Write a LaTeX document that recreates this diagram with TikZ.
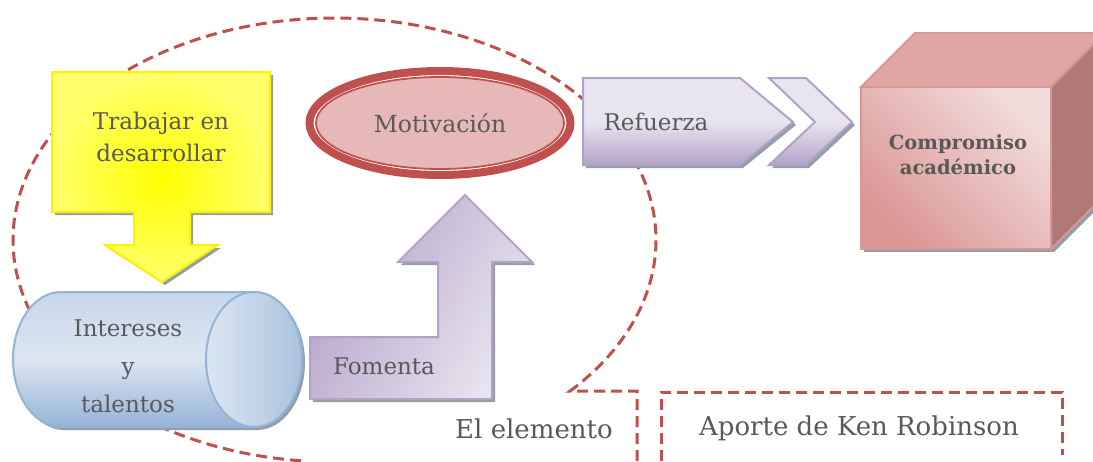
\documentclass[tikz,border=0pt]{standalone}
\usepackage{fontspec}
\setmainfont{DejaVu Serif}
\usetikzlibrary{shapes.geometric}

\definecolor{textgray}{HTML}{595959}
\definecolor{dashred}{HTML}{C0504D}
\definecolor{rosefill}{HTML}{E6B9B8}
\definecolor{lilaclight}{HTML}{E9E5F0}
\definecolor{lilacdark}{HTML}{B3A2C7}
\definecolor{bluelight}{HTML}{DCE6F2}
\definecolor{bluedark}{HTML}{95B3D7}
\definecolor{yellowlight}{HTML}{FFFF90}
\definecolor{shadowgray}{HTML}{939FA8}
\definecolor{cubefront}{HTML}{F2DCDB}
\definecolor{cubeedge}{HTML}{D99694}
\definecolor{cubetop}{HTML}{E0A6A4}
\definecolor{cubeside}{HTML}{B07976}

\newcommand{\trabajarpath}{(52,72) -- (270,72) -- (270,212) -- (190,212) -- (190,245) -- (218,245) -- (162,282) -- (105,245) -- (134,245) -- (134,212) -- (52,212) -- cycle}
\newcommand{\fomentapath}{(310,337) -- (438,337) -- (438,262) -- (398,262) -- (465,195) -- (532,262) -- (492,262) -- (492,399) -- (310,399) -- cycle}
\newcommand{\refuerzapath}{(583,78) -- (740,78) -- (793,122) -- (740,165) -- (583,165) -- cycle}
\newcommand{\chevronpath}{(769,78) -- (806,78) -- (852,122) -- (806,165) -- (769,165) -- (815,122) -- cycle}
\newcommand{\cylinderpath}{(61,292) -- (254,292) arc[start angle=-90, end angle=90, x radius=48, y radius=67.5] -- (61,427) arc[start angle=90, end angle=270, x radius=48, y radius=67.5] -- cycle}

\begin{document}
\begin{tikzpicture}[
  x=1pt, y=-1pt,
  every node/.style={text=textgray, align=center, inner sep=0pt},
  inner text/.style={font=\fontsize{23}{32}\selectfont},
  outer text/.style={font=\fontsize{26}{32}\selectfont},
  element line/.style={dashred, line width=3pt, dash pattern=on 11pt off 6pt},
  drop shadow/.style={fill=shadowgray, shift={(3,3)}},
  lilac shape/.style={draw=lilacdark, line width=2pt}
  ]
  \useasboundingbox (0,0) rectangle (1093,461);

  % dashed outlines
  \coordinate (elemcorner) at (637,391);
  \draw[element line] (637,461) -- (elemcorner) -- plot[domain=0:307.9, samples=160, smooth]
    ({334.5+321.5*cos(42.9-\x)}, {240+222*sin(42.9-\x)});
  \draw[element line] (661,461) -- (661,392) -- (1062,392) -- (1062,455);

  % yellow box with arrow
  \fill[drop shadow] \trabajarpath;
  \draw[draw=yellow, line width=2pt, shading=radial, inner color=yellow, outer color=yellowlight!75!yellow] \trabajarpath;
  \node[inner text] (trabajar) at (161,137) {Trabajar en\\desarrollar};

  % cylinder
  \fill[drop shadow] \cylinderpath;
  \draw[draw=bluedark, line width=2pt, top color=bluelight!70!bluedark, bottom color=bluedark, middle color=bluelight] \cylinderpath;
  \draw[draw=bluedark, line width=2pt, left color=bluelight, right color=bluedark!80] (254,359.5) ellipse[x radius=48, y radius=67.5];
  \node[inner text, font=\fontsize{23}{38}\selectfont] (intereses) at (128,366) {Intereses\\y\\talentos};

  % bent arrow up
  \fill[drop shadow] \fomentapath;
  \draw[lilac shape, left color=lilacdark, right color=lilaclight, shading angle=60] \fomentapath;
  \node[inner text] (fomenta) at (384,366) {Fomenta};

  % motivation
  \node[ellipse, draw=dashred, line width=1.8pt, fill=rosefill, minimum width=248pt, minimum height=92pt, inner text, font=\fontsize{23.5}{30}\selectfont] (motivacion) at (440,123) {Motivación};
  \draw[dashred, line width=8pt] (motivacion.center) ellipse[x radius=130.5, y radius=52];

  % chevrons
  \fill[drop shadow] \refuerzapath;
  \fill[drop shadow] \chevronpath;
  \draw[lilac shape, top color=lilaclight, bottom color=lilacdark, middle color=lilaclight] \refuerzapath;
  \draw[lilac shape, top color=lilaclight, bottom color=lilacdark, middle color=lilaclight] \chevronpath;
  \node[inner text] (refuerza) at (656,122) {Refuerza};

  % cube
  \fill[drop shadow] (861,87) rectangle (1051,249);
  \fill[drop shadow] (1051,87) -- (1105,33) -- (1105,195) -- (1051,249) -- cycle;
  \draw[draw=cubeedge, line width=2pt, fill=cubetop] (861,87) -- (915,33) -- (1105,33) -- (1051,87) -- cycle;
  \draw[draw=cubeedge, line width=2pt, fill=cubeside] (1051,87) -- (1105,33) -- (1105,195) -- (1051,249) -- cycle;
  \draw[draw=cubeedge, line width=2pt, left color=cubeedge, right color=cubefront, shading angle=135] (861,87) rectangle (1051,249);
  \node[font=\fontsize{19.5}{25}\selectfont\bfseries] (compromiso) at (958,155) {Compromiso\\académico};

  % labels of the dashed boxes
  \node[outer text] (elemento) at (534,429) {El elemento};
  \node[outer text] (aporte) at (859,428) {Aporte de Ken Robinson};
\end{tikzpicture}
\end{document}
